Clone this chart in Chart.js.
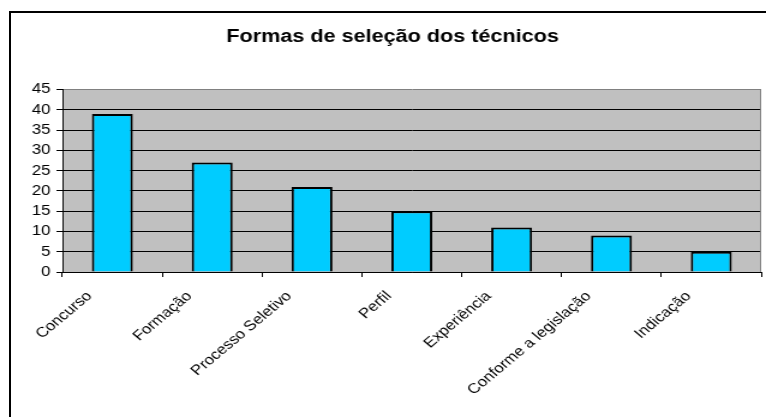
<!DOCTYPE html>
<html>
<head>
<meta charset="utf-8">
<script src="https://cdn.jsdelivr.net/npm/chart.js@4/dist/chart.umd.min.js"></script>
<style>
  html, body { margin: 0; padding: 0; background: #fff; overflow: hidden; }
  /* outer chart frame (cropped on the right and bottom in the original) */
  #frame { position: absolute; left: 9px; top: 11px; width: 800px; height: 500px;
           border-left: 2px solid #000; border-top: 2px solid #000; }
  /* the source chart is stretched horizontally, text included */
  #wrap  { position: absolute; left: 0; top: 0; width: 638px; height: 417px;
           transform: scaleX(1.2006); transform-origin: 0 0; }
</style>
</head>
<body>
<div id="frame"></div>
<div id="wrap"><canvas id="chart" width="638" height="417"></canvas></div>
<script>
// ── Data ───────────────────────────────────────────────────────
const categories = ['Concurso', 'Formação', 'Processo Seletivo', 'Perfil',
                    'Experiência', 'Conforme a legislação', 'Indicação'];
const counts     = [39, 27, 21, 15, 11, 9, 5];
const yMax       = 45;
const yStep      = 5;
const chartTitle = 'Formas de seleção dos técnicos';

const FONT = "'Liberation Sans', Arial, sans-serif";

// grey plot background + grey right edge, as in the old Excel style
const plotArea = {
  id: 'plotArea',
  beforeDraw(chart) {
    const { ctx, chartArea: a } = chart;
    ctx.save();
    ctx.fillStyle = '#c0c0c0';
    ctx.fillRect(a.left, a.top, a.right - a.left, a.bottom - a.top);
    ctx.restore();
  },
  afterDraw(chart) {
    const { ctx, chartArea: a } = chart;
    ctx.save();
    ctx.strokeStyle = '#808080';
    ctx.lineWidth = 1;
    ctx.beginPath();
    ctx.moveTo(a.right - 0.5, a.top);
    ctx.lineTo(a.right - 0.5, a.bottom);
    ctx.stroke();
    ctx.restore();
  },
};

new Chart(document.getElementById('chart'), {
  type: 'bar',
  data: {
    labels: categories,
    datasets: [{
      data: counts,
      backgroundColor: '#00ccff',
      borderColor: '#000',
      borderWidth: 2,
      barPercentage: 0.41,
      categoryPercentage: 1,
    }],
  },
  options: {
    responsive: false,
    animation: false,
    layout: { padding: { left: 20, right: 4, top: 12, bottom: 0 } },
    plugins: {
      legend:  { display: false },
      tooltip: { enabled: false },
      title: {
        display: true,
        text: chartTitle,
        color: '#000',
        font: { family: FONT, size: 18, weight: 'bold' },
        padding: { top: 14, bottom: 42 },
      },
    },
    scales: {
      x: {
        grid: { offset: true, drawOnChartArea: false, drawTicks: true, tickLength: 5, color: '#000' },
        border: { color: '#000', width: 1 },
        ticks: {
          autoSkip: false, minRotation: 45, maxRotation: 45,
          color: '#000', font: { family: FONT, size: 14 },
          padding: 11, labelOffset: -19,
        },
        afterFit: s => { s.height = 145; },
      },
      y: {
        min: 0, max: yMax,
        grid: {
          color: c => c.tick && c.tick.value === yMax ? '#808080' : '#000',
          tickColor: '#000', tickLength: 5,
        },
        border: { color: '#000', width: 1 },
        ticks: { stepSize: yStep, color: '#000', font: { family: FONT, size: 14 }, padding: 5 },
        afterFit: s => { s.width = 32; },
      },
    },
  },
  plugins: [plotArea],
});
</script>
</body>
</html>
